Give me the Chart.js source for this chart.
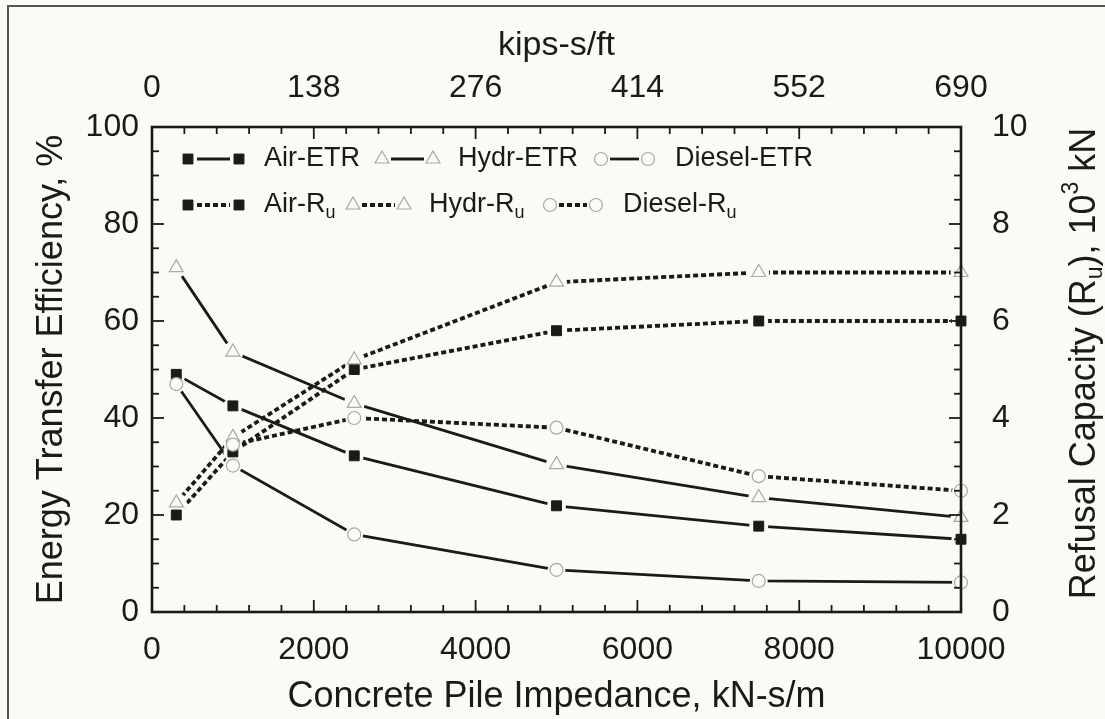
<!DOCTYPE html>
<html>
<head>
<meta charset="utf-8">
<script src="https://cdn.jsdelivr.net/npm/chart.js@4.4.1/dist/chart.umd.min.js"></script>
<style>
  html, body { margin: 0; padding: 0; background: #fbfaf5; }
  #wrap { width: 1105px; height: 719px; }
</style>
</head>
<body>
<div id="wrap"><canvas id="chart" width="1105" height="719"></canvas></div>
<script>
// pile impedance, kN-s/m
var impedance = [300, 1000, 2500, 5000, 7500, 10000];
// energy transfer ratio, %
var airEtr    = [49, 42.5, 32.2, 21.9, 17.7, 15];
var hydrEtr   = [71, 53.6, 43, 30.4, 23.6, 19.5];
var dieselEtr = [47, 30.2, 16, 8.7, 6.4, 6.1];
// refusal capacity, 10^3 kN (diesel has no point at 300)
var airRu    = [2.0, 3.3, 5.0, 5.8, 6.0, 6.0];
var hydrRu   = [2.25, 3.6, 5.2, 6.8, 7.0, 7.0];
var dieselRu = [null, 3.45, 4.0, 3.8, 2.8, 2.5];
// top axis labels (kips-s/ft)
var kipsLabels = ['0', '138', '276', '414', '552', '690'];

var BG = '#fbfaf5';
var INK = '#1a1a1a';
var GREY = '#a8a8a8';
var FONT = '"Liberation Sans", Arial, Helvetica, sans-serif';
Chart.defaults.font.family = FONT;
Chart.defaults.color = INK;

function points(vals) {
  return impedance.map(function(x, i) { return {x: x, y: vals[i]}; });
}

var styles = {
  rect:     {pointStyle: 'rect', pointRadius: 7, pointBackgroundColor: INK, pointBorderColor: INK, pointBorderWidth: 1},
  triangle: {pointStyle: 'triangle', pointRadius: 8, pointBackgroundColor: BG, pointBorderColor: GREY, pointBorderWidth: 1.2},
  circle:   {pointStyle: 'circle', pointRadius: 6.5, pointBackgroundColor: BG, pointBorderColor: GREY, pointBorderWidth: 1.2}
};

function makeSet(label, vals, axis, shape, dotted) {
  var d = {
    label: label,
    data: points(vals),
    yAxisID: axis,
    xAxisID: 'x',
    borderColor: INK,
    borderWidth: dotted ? 3.8 : 2.8,
    borderDash: dotted ? [5, 3] : [],
    tension: 0,
    fill: false
  };
  var s = styles[shape];
  for (var k in s) d[k] = s[k];
  return d;
}

var datasets = [
  makeSet('Air-ETR', airEtr, 'y', 'rect', false),
  makeSet('Hydr-ETR', hydrEtr, 'y', 'triangle', false),
  makeSet('Diesel-ETR', dieselEtr, 'y', 'circle', false),
  makeSet('Air-R_u', airRu, 'y2', 'rect', true),
  makeSet('Hydr-R_u', hydrRu, 'y2', 'triangle', true),
  makeSet('Diesel-R_u', dieselRu, 'y2', 'circle', true)
];

// text with _sub and ^sup pieces
function richParts(str) {
  var out = [], re = /([_^])(\w)/g, last = 0, m;
  while ((m = re.exec(str)) !== null) {
    if (m.index > last) out.push({t: str.slice(last, m.index), k: 'n'});
    out.push({t: m[2], k: m[1] === '_' ? 'sub' : 'sup'});
    last = re.lastIndex;
  }
  if (last < str.length) out.push({t: str.slice(last), k: 'n'});
  return out;
}
function drawRich(ctx, str, x, y, size, align) {
  var parts = richParts(str), small = Math.round(size * 0.65);
  var w = 0;
  parts.forEach(function(p) {
    ctx.font = (p.k === 'n' ? size : small) + 'px ' + FONT;
    p.w = ctx.measureText(p.t).width;
    w += p.w;
  });
  var cx = align === 'center' ? x - w / 2 : x;
  ctx.textBaseline = 'middle';
  ctx.textAlign = 'left';
  parts.forEach(function(p) {
    ctx.font = (p.k === 'n' ? size : small) + 'px ' + FONT;
    var dy = p.k === 'sub' ? size * 0.3 : (p.k === 'sup' ? -size * 0.38 : 0);
    ctx.fillText(p.t, cx, y + dy);
    cx += p.w;
  });
}

function marker(ctx, d, x, y) {
  var r = d.pointRadius;
  ctx.fillStyle = d.pointBackgroundColor;
  ctx.strokeStyle = d.pointBorderColor;
  ctx.lineWidth = d.pointBorderWidth;
  ctx.setLineDash([]);
  ctx.beginPath();
  if (d.pointStyle === 'rect') {
    var h = r * Math.SQRT1_2;
    ctx.rect(x - h, y - h, 2 * h, 2 * h);
  } else if (d.pointStyle === 'triangle') {
    for (var i = 0; i < 3; i++) {
      var a = i * 2 * Math.PI / 3;
      ctx[i ? 'lineTo' : 'moveTo'](x + Math.sin(a) * r, y - Math.cos(a) * r);
    }
    ctx.closePath();
  } else {
    ctx.arc(x, y, r, 0, Math.PI * 2);
  }
  ctx.fill();
  ctx.stroke();
}

var bgPlugin = {
  id: 'bg',
  beforeDraw: function(chart) {
    var ctx = chart.ctx;
    ctx.save();
    ctx.fillStyle = BG;
    ctx.fillRect(0, 0, chart.width, chart.height);
    ctx.strokeStyle = '#555';
    ctx.lineWidth = 2;
    ctx.strokeRect(8, 6, chart.width + 20, chart.height + 20);
    ctx.restore();
  }
};

// leave a small gap round each marker, as in the print
var gapPlugin = {
  id: 'gaps',
  afterDatasetsDraw: function(chart) {
    var ctx = chart.ctx;
    ctx.save();
    ctx.fillStyle = BG;
    chart.data.datasets.forEach(function(d, i) {
      chart.getDatasetMeta(i).data.forEach(function(pt) {
        if (pt.skip) return;
        ctx.beginPath();
        ctx.arc(pt.x, pt.y, d.pointRadius + 2.5, 0, Math.PI * 2);
        ctx.fill();
      });
    });
    chart.data.datasets.forEach(function(d, i) {
      chart.getDatasetMeta(i).data.forEach(function(pt) { pt.draw(ctx, chart.chartArea); });
    });
    ctx.restore();
  }
};

// frame, inward ticks, legend and the right-hand title
var framePlugin = {
  id: 'frame',
  afterDraw: function(chart) {
    var ctx = chart.ctx, a = chart.chartArea, s = chart.scales;
    ctx.save();
    ctx.strokeStyle = INK;
    ctx.setLineDash([]);
    function seg(x1, y1, x2, y2) { ctx.beginPath(); ctx.moveTo(x1, y1); ctx.lineTo(x2, y2); ctx.stroke(); }
    ctx.lineWidth = 1.8;
    var v, p, len;
    for (v = 0; v <= 10000; v += 400) {
      len = v % 2000 === 0 ? 12 : 7;
      p = s.x.getPixelForValue(v);
      seg(p, a.bottom, p, a.bottom - len);
      p = s.x2.getPixelForValue(v);
      seg(p, a.top, p, a.top + len);
    }
    for (v = 0; v <= 100; v += 5) {
      len = v % 20 === 0 ? 12 : 7;
      p = s.y.getPixelForValue(v);
      seg(a.left, p, a.left + len, p);
    }
    for (v = 0; v <= 10; v += 0.5) {
      len = v % 2 === 0 ? 12 : 7;
      p = s.y2.getPixelForValue(v);
      seg(a.right, p, a.right - len, p);
    }
    ctx.lineWidth = 2.6;
    ctx.strokeRect(a.left, a.top, a.right - a.left, a.bottom - a.top);

    // legend
    var slots = [
      [188, 239, 264, 159], [382, 433, 458, 159], [601, 648, 675, 159],
      [188, 239, 264, 205], [353, 404, 429, 205], [550, 596, 623, 205]
    ];
    chart.data.datasets.forEach(function(d, i) {
      var sl = slots[i];
      ctx.strokeStyle = INK;
      ctx.lineWidth = d.borderWidth;
      ctx.setLineDash(d.borderDash);
      seg(sl[0] + 9, sl[3], sl[1] - 9, sl[3]);
      marker(ctx, d, sl[0], sl[3]);
      marker(ctx, d, sl[1], sl[3]);
      ctx.fillStyle = INK;
      drawRich(ctx, d.label, sl[2], sl[3], 27, 'left');
    });

    // right axis title
    ctx.translate(1085, (a.top + a.bottom) / 2 - 6);
    ctx.rotate(-Math.PI / 2);
    ctx.fillStyle = INK;
    drawRich(ctx, 'Refusal Capacity (R_u), 10^3 kN', 0, 0, 36, 'center');
    ctx.restore();
  }
};

var tickFont = {size: 32};
var noGrid = {display: false, drawTicks: false};

new Chart(document.getElementById('chart'), {
  type: 'line',
  data: {datasets: datasets},
  options: {
    responsive: false,
    animation: false,
    devicePixelRatio: 1,
    layout: {padding: 0},
    plugins: {legend: {display: false}, tooltip: {enabled: false}},
    scales: {
      x: {
        type: 'linear', position: 'bottom', min: 0, max: 10000,
        grid: noGrid, border: {display: false},
        ticks: {stepSize: 2000, font: tickFont, padding: 19, maxRotation: 0,
          callback: function(v) { return String(v); }},
        title: {display: true, text: 'Concrete Pile Impedance, kN-s/m', font: {size: 36, lineHeight: 1}, padding: {top: 0, bottom: 4}},
        afterFit: function(sc) { sc.height = 107; }
      },
      x2: {
        type: 'linear', position: 'top', min: 0, max: 10000,
        grid: noGrid, border: {display: false},
        ticks: {stepSize: 2000, font: tickFont, padding: 20, maxRotation: 0,
          callback: function(v) { return kipsLabels[Math.round(v / 2000)]; }},
        title: {display: true, text: 'kips-s/ft', font: {size: 34, lineHeight: 1}, padding: {top: 29, bottom: 0}},
        afterFit: function(sc) { sc.height = 127; }
      },
      y: {
        type: 'linear', position: 'left', min: 0, max: 100,
        grid: noGrid, border: {display: false},
        ticks: {stepSize: 20, font: tickFont, padding: 13},
        title: {display: true, text: 'Energy Transfer Efficiency, %', font: {size: 36, lineHeight: 1}, padding: {top: 34, bottom: 0}},
        afterFit: function(sc) { sc.width = 152; }
      },
      y2: {
        type: 'linear', position: 'right', min: 0, max: 10,
        grid: noGrid, border: {display: false},
        ticks: {stepSize: 2, font: tickFont, padding: 31},
        afterFit: function(sc) { sc.width = 144; }
      }
    }
  },
  plugins: [bgPlugin, gapPlugin, framePlugin]
});
</script>
</body>
</html>
